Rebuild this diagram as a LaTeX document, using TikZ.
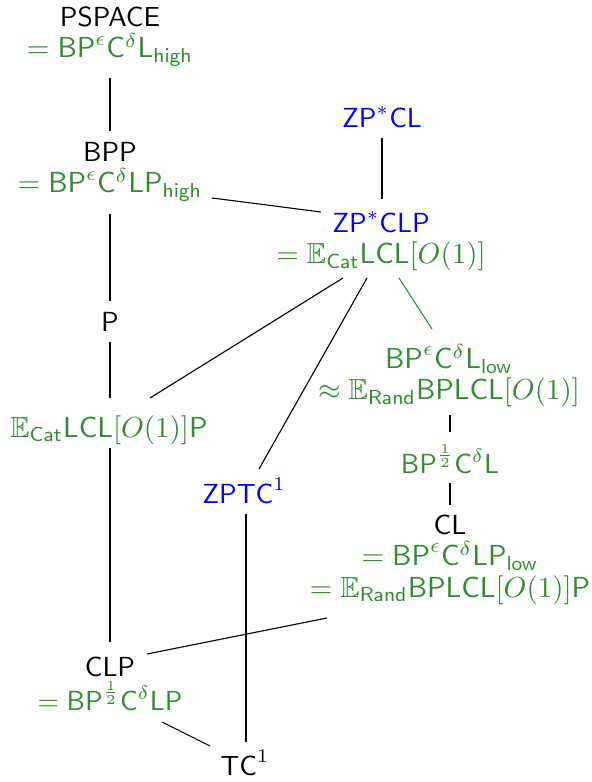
\documentclass[tikz,border=0pt]{standalone}
\usepackage{graphicx}
\usepackage{amssymb}
\usetikzlibrary{calc}
\definecolor{mygreen}{RGB}{50,140,50}
\definecolor{myblue}{RGB}{0,0,255}
\tikzset{
  cls/.style={align=center, anchor=base, font=\fontsize{10}{11.3}\selectfont\sffamily},
  link/.style={line width=0.4pt, black},
  glink/.style={line width=0.4pt, mygreen},
}
\newcommand{\gr}{\color{mygreen}}
\newcommand{\gw}[1]{\scalebox{1.05}{\color{mygreen}#1}}
\begin{document}
\begin{tikzpicture}[x=0.3623pt,y=-0.3623pt]
\useasboundingbox (0,0) rectangle (592,782);
% nodes (anchor = baseline of the last line)
\node[cls] (pspace) at (110,58) {PSPACE\\\gw{$=\mathsf{BP}^{\epsilon}\mathsf{C}^{\delta}\mathsf{L}_{\mathsf{high}}$}};
\node[cls] (bpp) at (110,193) {BPP\\\gw{$=\mathsf{BP}^{\epsilon}\mathsf{C}^{\delta}\mathsf{LP}_{\mathsf{high}}$}};
\node[cls] (p) at (110,332) {P};
\node[cls] (ecat) at (109,437) {\gw{$\mathbb{E}_{\mathsf{Cat}}\mathsf{LCL}[O(1)]\mathsf{P}$}};
\node[cls] (clp) at (110,710) {CLP\\[1pt]{\gr$=\mathsf{BP}^{\frac{1}{2}}\mathsf{C}^{\delta}\mathsf{LP}$}};
\node[cls] (tc) at (245,775) {$\mathsf{TC}^1$};
\node[cls] (zptc) at (244,503) {\color{myblue}$\mathsf{ZPTC}^1$};
\node[cls] (zpcl) at (382,128) {\color{myblue}$\mathsf{ZP}^{*}\mathsf{CL}$};
\node[cls] (zpclp) at (381,264) {{\color{myblue}$\mathsf{ZP}^{*}\mathsf{CLP}$}\\\gw{$=\mathbb{E}_{\mathsf{Cat}}\mathsf{LCL}[O(1)]$}};
\node[cls] (bplow) at (449,400) {\gw{$\mathsf{BP}^{\epsilon}\mathsf{C}^{\delta}\mathsf{L}_{\mathsf{low}}$}\\\gw{$\approx\mathbb{E}_{\mathsf{Rand}}\mathsf{BPLCL}[O(1)]$}};
\node[cls] (bphalf) at (450,473) {\gr$\mathsf{BP}^{\frac{1}{2}}\mathsf{C}^{\delta}\mathsf{L}$};
\node[cls] (cl) at (450,597) {CL\\\gw{$=\mathsf{BP}^{\epsilon}\mathsf{C}^{\delta}\mathsf{LP}_{\mathsf{low}}$}\\\gw{$=\mathbb{E}_{\mathsf{Rand}}\mathsf{BPLCL}[O(1)]\mathsf{P}$}};
% connectors (offsets from each node's base point)
\draw[link] ($(pspace.base)+(0,20)$) -- ($(bpp.base)+(0,-62)$);
\draw[link] ($(bpp.base)+(0,21)$) -- ($(p.base)+(0,-31)$);
\draw[link] ($(p.base)+(0,10)$) -- ($(ecat.base)+(1,-39)$);
\draw[link] ($(ecat.base)+(1,11)$) -- ($(clp.base)+(0,-68)$);
\draw[link] ($(zpcl.base)+(0,10)$) -- ($(zpclp.base)+(1,-65)$);
\draw[link] ($(bpp.base)+(102,5)$) -- ($(zpclp.base)+(-60,-52)$);
\draw[link] ($(zpclp.base)+(-38,14)$) -- ($(ecat.base)+(41,-39)$);
\draw[link] ($(zpclp.base)+(-14,14)$) -- ($(zptc.base)+(15,-34)$);
\draw[glink] ($(zpclp.base)+(18,14)$) -- ($(bplow.base)+(-17,-71)$);
\draw[link] ($(bplow.base)+(1,15)$) -- ($(bphalf.base)+(0,-41)$);
\draw[link] ($(bphalf.base)+(0,10)$) -- ($(cl.base)+(0,-92)$);
\draw[link] ($(cl.base)+(-123,21)$) -- ($(clp.base)+(37,-56)$);
\draw[link] ($(zptc.base)+(2,11)$) -- ($(tc.base)+(1,-33)$);
\draw[link] ($(clp.base)+(52,12)$) -- ($(tc.base)+(-35,-29)$);
\end{tikzpicture}
\end{document}
